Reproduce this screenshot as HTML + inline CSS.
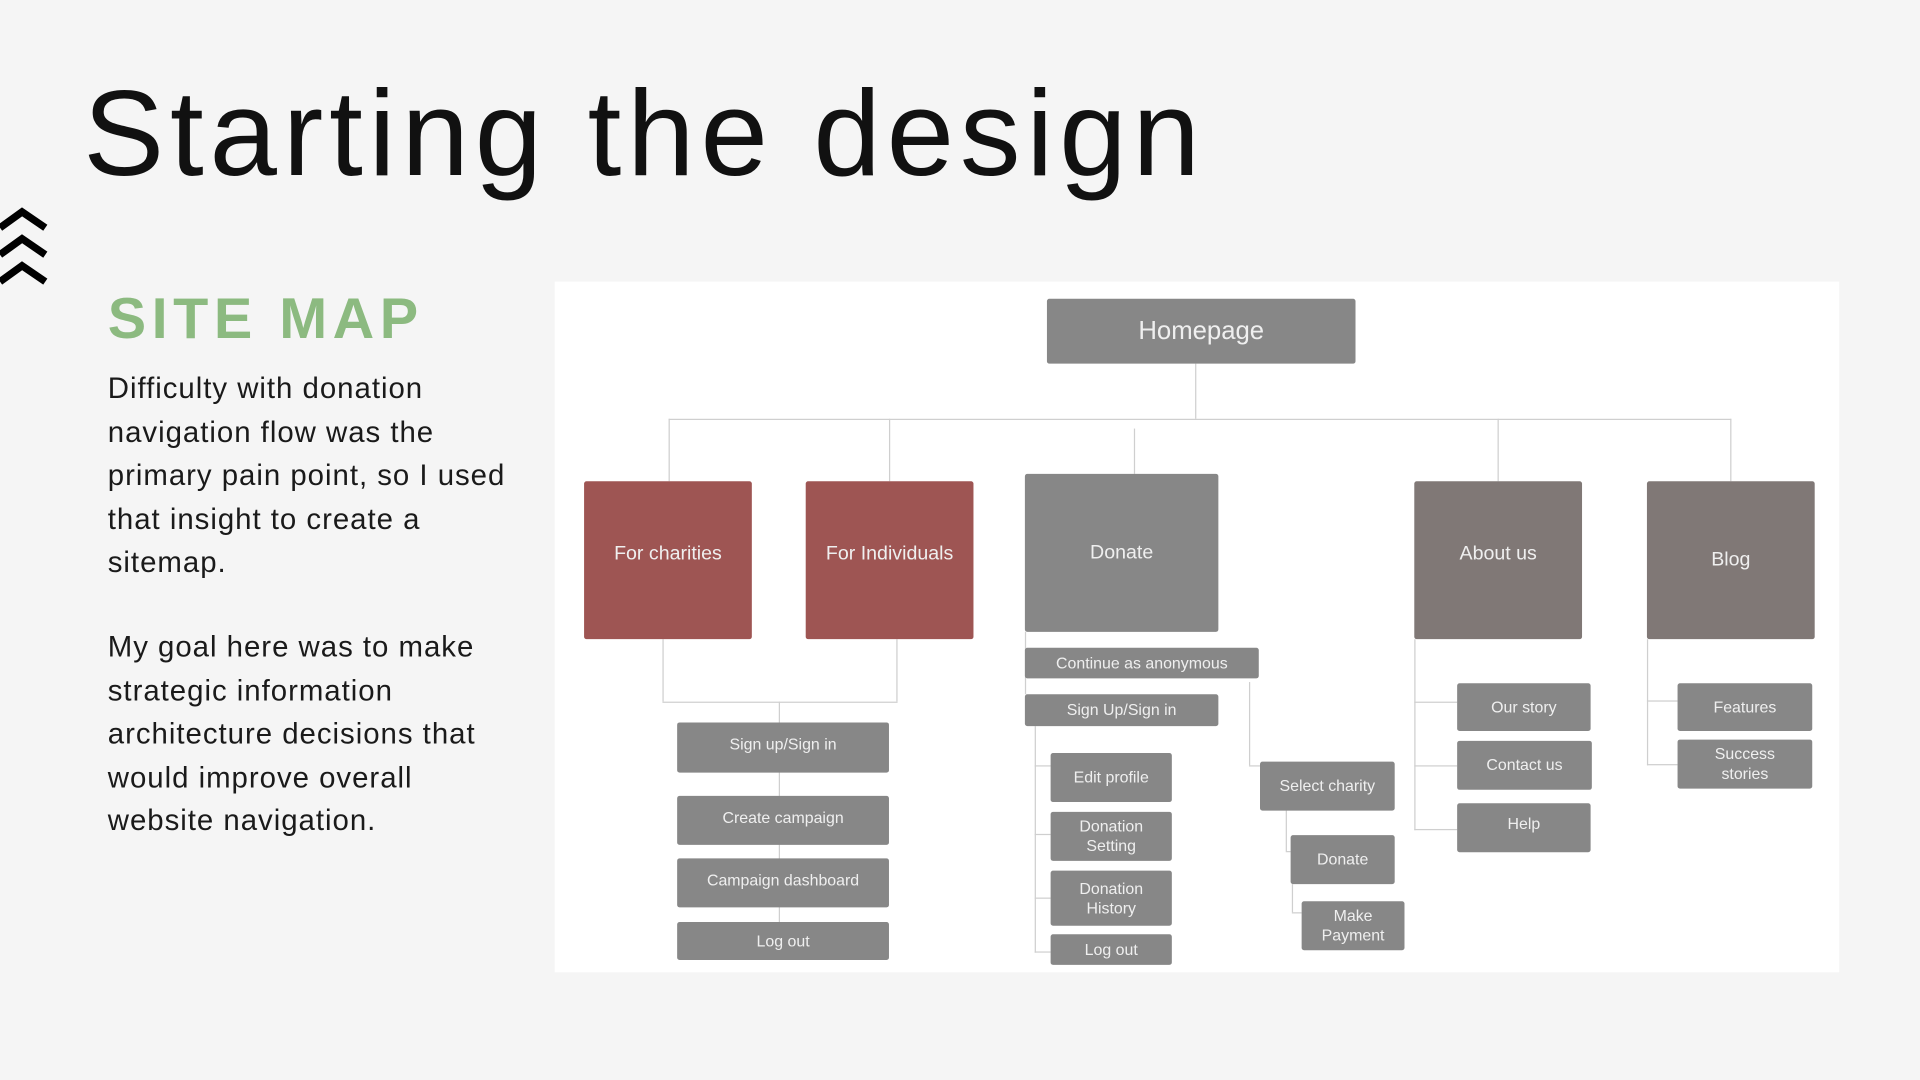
<!DOCTYPE html>
<html><head><meta charset="utf-8"><style>
html,body{margin:0;padding:0;background:#f5f5f5;overflow:hidden}
#w{position:absolute;left:0;top:0;width:1568px;height:882px;transform:scale(1.22449);transform-origin:0 0;font-family:"Liberation Sans",sans-serif}
.t{position:absolute;left:68px;top:52px;font-size:99px;color:#111;white-space:nowrap;letter-spacing:4.8px}
.h{position:absolute;left:88px;top:232px;font-size:47px;font-weight:bold;color:#8cba80;letter-spacing:4.5px}
.p{position:absolute;left:88px;top:300px;font-size:24px;line-height:35.5px;color:#1a1a1a;white-space:nowrap;letter-spacing:0.8px}
.panel{position:absolute;left:453px;top:230px;width:1049px;height:564px;background:#fff}
.b{position:absolute;background:#878787;color:#efefef;display:flex;align-items:center;justify-content:center;text-align:center;font-size:13px;line-height:16px;border-radius:2px}
.r{background:#9e5553;font-size:16px}
.a{background:#807876;font-size:16px}
.l{position:absolute;background:#cfcfcf}
</style></head><body><div id="w">
<div class="t">Starting the design</div>
<svg style="position:absolute;left:0;top:166px" width="40" height="72"><g fill="none" stroke="#000" stroke-width="6"><polyline points="0,20 18,7 37,20"/><polyline points="0,42 18,29 37,42"/><polyline points="0,64 18,51 37,64"/></g></svg>
<div class="h">SITE MAP</div>
<div class="p">Difficulty with donation<br>navigation flow was the<br>primary pain point, so I used<br>that insight to create a<br>sitemap.<br><br><span style="display:block;margin-top:-2px">My goal here was to make<br>strategic information<br>architecture decisions that<br>would improve overall<br>website navigation.</span></div>
<div class="panel"></div>
<div class="l" style="left:976px;top:297px;width:1px;height:45px"></div>
<div class="l" style="left:546px;top:342px;width:868px;height:1px"></div>
<div class="l" style="left:546px;top:342px;width:1px;height:51px"></div>
<div class="l" style="left:726px;top:342px;width:1px;height:51px"></div>
<div class="l" style="left:926px;top:350px;width:1px;height:37px"></div>
<div class="l" style="left:1223px;top:342px;width:1px;height:51px"></div>
<div class="l" style="left:1413px;top:342px;width:1px;height:51px"></div>
<div class="l" style="left:541px;top:522px;width:1px;height:51px"></div>
<div class="l" style="left:732px;top:522px;width:1px;height:51px"></div>
<div class="l" style="left:541px;top:573px;width:192px;height:1px"></div>
<div class="l" style="left:636px;top:573px;width:1px;height:200px"></div>
<div class="l" style="left:837px;top:516px;width:1px;height:51px"></div>
<div class="l" style="left:845px;top:593px;width:1px;height:185px"></div>
<div class="l" style="left:845px;top:625px;width:13px;height:1px"></div>
<div class="l" style="left:845px;top:681px;width:13px;height:1px"></div>
<div class="l" style="left:845px;top:733px;width:13px;height:1px"></div>
<div class="l" style="left:845px;top:777px;width:13px;height:1px"></div>
<div class="l" style="left:1020px;top:557px;width:1px;height:68px"></div>
<div class="l" style="left:1020px;top:625px;width:9px;height:1px"></div>
<div class="l" style="left:1050px;top:662px;width:1px;height:33px"></div>
<div class="l" style="left:1050px;top:695px;width:4px;height:1px"></div>
<div class="l" style="left:1055px;top:722px;width:1px;height:23px"></div>
<div class="l" style="left:1055px;top:745px;width:8px;height:1px"></div>
<div class="l" style="left:1155px;top:522px;width:1px;height:156px"></div>
<div class="l" style="left:1155px;top:573px;width:35px;height:1px"></div>
<div class="l" style="left:1155px;top:625px;width:35px;height:1px"></div>
<div class="l" style="left:1155px;top:677px;width:35px;height:1px"></div>
<div class="l" style="left:1345px;top:522px;width:1px;height:103px"></div>
<div class="l" style="left:1345px;top:572px;width:25px;height:1px"></div>
<div class="l" style="left:1345px;top:624px;width:25px;height:1px"></div>
<div class="b" style="left:855px;top:244px;width:252px;height:53px;font-size:21px">Homepage</div>
<div class="b r" style="left:477px;top:393px;width:137px;height:129px;padding-bottom:10px;box-sizing:border-box">For charities</div>
<div class="b r" style="left:658px;top:393px;width:137px;height:129px;padding-bottom:10px;box-sizing:border-box">For Individuals</div>
<div class="b" style="left:837px;top:387px;width:158px;height:129px;font-size:16px">Donate</div>
<div class="b a" style="left:1155px;top:393px;width:137px;height:129px;padding-bottom:10px;box-sizing:border-box">About us</div>
<div class="b a" style="left:1345px;top:393px;width:137px;height:129px">Blog</div>
<div class="b" style="left:553px;top:590px;width:173px;height:41px;align-items:flex-start;padding-top:10px;box-sizing:border-box">Sign up/Sign in</div>
<div class="b" style="left:553px;top:650px;width:173px;height:40px;align-items:flex-start;padding-top:10px;box-sizing:border-box">Create campaign</div>
<div class="b" style="left:553px;top:701px;width:173px;height:40px;align-items:flex-start;padding-top:10px;box-sizing:border-box">Campaign dashboard</div>
<div class="b" style="left:553px;top:753px;width:173px;height:31px">Log out</div>
<div class="b" style="left:837px;top:529px;width:191px;height:25px">Continue as anonymous</div>
<div class="b" style="left:837px;top:567px;width:158px;height:26px">Sign Up/Sign in</div>
<div class="b" style="left:858px;top:615px;width:99px;height:40px">Edit profile</div>
<div class="b" style="left:858px;top:663px;width:99px;height:40px">Donation<br>Setting</div>
<div class="b" style="left:858px;top:711px;width:99px;height:45px">Donation<br>History</div>
<div class="b" style="left:858px;top:763px;width:99px;height:25px">Log out</div>
<div class="b" style="left:1029px;top:622px;width:110px;height:40px">Select charity</div>
<div class="b" style="left:1054px;top:682px;width:85px;height:40px">Donate</div>
<div class="b" style="left:1063px;top:736px;width:84px;height:40px">Make<br>Payment</div>
<div class="b" style="left:1190px;top:558px;width:109px;height:39px">Our story</div>
<div class="b" style="left:1190px;top:605px;width:110px;height:40px">Contact us</div>
<div class="b" style="left:1190px;top:656px;width:109px;height:40px;align-items:flex-start;padding-top:9px;box-sizing:border-box">Help</div>
<div class="b" style="left:1370px;top:558px;width:110px;height:39px">Features</div>
<div class="b" style="left:1370px;top:604px;width:110px;height:40px">Success<br>stories</div>
</div></body></html>
